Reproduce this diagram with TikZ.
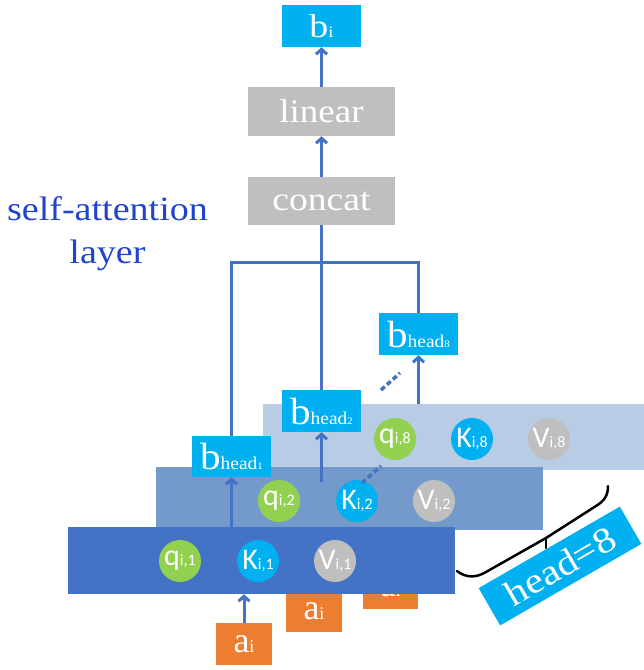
\documentclass[tikz,border=0pt]{standalone}
\usepackage{fontspec}
\setmainfont{Liberation Serif}
\newfontfamily\calfont{Carlito}
\usepackage{graphicx}
\usetikzlibrary{arrows.meta}
\definecolor{cyanb}{HTML}{00B0F0}
\definecolor{grayb}{HTML}{BFBFBF}
\definecolor{darkl}{HTML}{4472C4}
\definecolor{medl}{HTML}{739ACB}
\definecolor{lightl}{HTML}{B8CCE6}
\definecolor{orangeb}{HTML}{ED7D31}
\definecolor{greenc}{HTML}{92D050}
\definecolor{titleblue}{HTML}{2244CC}
\newcommand\fs[2]{{\fontsize{#1}{#1}\selectfont #2}}
\newcommand\sx[2]{\scalebox{#1}[1]{#2}}
\begin{document}
\begin{tikzpicture}[x=1pt,y=-1pt,
  rbox/.style={fill=#1, inner sep=0pt, text=white, draw=none},
  layer/.style={fill=#1, inner sep=0pt, draw=none},
  circ/.style={circle, fill=#1, minimum size=42pt, inner sep=0pt, text=white, font=\calfont},
  ln/.style={draw=darkl, line width=3pt},
  arr/.style={draw=darkl, line width=3pt, -{Straight Barb[length=5pt,width=11pt,line width=3pt]}},
  dsh/.style={draw=darkl, line width=3.5pt, dash pattern=on 5pt off 3pt},
  brc/.style={draw=black, line width=2.5pt, line cap=round}]
\useasboundingbox (0,0) rectangle (644,670);
% a_i boxes (behind layers)
\node[rbox=orangeb, minimum width=55pt, minimum height=42pt] (ai3) at (390.5,588) {\fs{36}{a}\fs{18}{i}};
\node[rbox=orangeb, minimum width=56pt, minimum height=42pt] (ai2) at (314,611) {\fs{36}{a}\fs{18}{i}};
\node[rbox=orangeb, minimum width=56pt, minimum height=42pt] (ai1) at (244,644) {\fs{36}{a}\fs{18}{i}};
% layers
\node[layer=lightl, minimum width=381pt, minimum height=66pt] (light) at (453.5,437) {};
\node[layer=medl, minimum width=387pt, minimum height=63pt] (med) at (349.5,498.5) {};
\node[layer=darkl, minimum width=387pt, minimum height=67pt] (dark) at (261.5,560.5) {};
% circles
\node[circ=greenc] (q8) at (395,439) {\fs{30}{q}\fs{16}{i,8}};
\node[circ=cyanb] (k8) at (472,439) {\fs{30}{K}\fs{16}{i,8}};
\node[circ=grayb] (v8) at (549,439) {\fs{30}{V}\fs{16}{i,8}};
\node[circ=greenc] (q2) at (279,501) {\fs{30}{q}\fs{16}{i,2}};
\node[circ=cyanb] (k2) at (357,501) {\fs{30}{K}\fs{16}{i,2}};
\node[circ=grayb] (v2) at (434,501) {\fs{30}{V}\fs{16}{i,2}};
\node[circ=greenc] (q1) at (180,561) {\fs{30}{q}\fs{16}{i,1}};
\node[circ=cyanb] (k1) at (258,561) {\fs{30}{K}\fs{16}{i,1}};
\node[circ=grayb] (v1) at (335,561) {\fs{30}{V}\fs{16}{i,1}};
% top boxes
\node[rbox=cyanb, minimum width=79pt, minimum height=42pt] (bi) at (321.5,26) {\sx{1.15}{\fs{33}{b}\fs{16}{i}}};
\node[rbox=grayb, minimum width=147pt, minimum height=49pt] (linear) at (321.5,111.5) {\sx{1.12}{\fs{33}{linear}}};
\node[rbox=grayb, minimum width=147pt, minimum height=48pt] (concat) at (321.5,201) {\sx{1.14}{\fs{33}{concat}}};
% head boxes
\node[rbox=cyanb, minimum width=79pt, minimum height=42pt] (bh8) at (418.5,334) {\sx{1.08}{\fs{38}{b}\fs{18}{head}\fs{10}{8}}};
\node[rbox=cyanb, minimum width=79pt, minimum height=42pt] (bh2) at (321.5,411) {\sx{1.08}{\fs{38}{b}\fs{18}{head}\fs{10}{2}}};
\node[rbox=cyanb, minimum width=79pt, minimum height=41pt] (bh1) at (231.5,456.5) {\sx{1.08}{\fs{38}{b}\fs{18}{head}\fs{10}{1}}};
% title
\node[anchor=base, text=titleblue, inner sep=0pt] (t1) at (107.5,220) {\sx{1.12}{\fs{34}{self-attention}}};
\node[anchor=base, text=titleblue, inner sep=0pt] (t2) at (107.5,263) {\sx{1.12}{\fs{34}{layer}}};
% connectors
\coordinate (jt) at (321.5,262);
\draw[arr] (concat.north) -- (linear.south);
\draw[arr] (linear.north) -- (bi.south);
\draw[ln] (concat.south) -- (bh2.north);
\draw[ln, line join=miter] (bh1.north) |- (jt) -| (bh8.north);
\draw[arr] (dark.north -| bh1.south) -- (bh1.south);
\coordinate (s2) at (321.5,482);
\draw[arr] (s2) -- (bh2.south);
\draw[arr] (light.north -| bh8.south) -- (bh8.south);
\draw[arr] (ai1.north) -- (dark.south -| ai1.north);
\coordinate (d1a) at (381,390);
\coordinate (d1b) at (400,373);
\coordinate (d2a) at (362,483);
\coordinate (d2b) at (381,466);
\draw[dsh] (d1a) -- (d1b);
\draw[dsh] (d2a) -- (d2b);
% brace
\coordinate (br1) at (457,571);
\coordinate (brm) at (546,538);
\coordinate (br2) at (608,486);
\coordinate (brt) at (546,548);
\draw[brc] (br1) .. controls (466,578) and (476,578) .. (486,572) -- (brm) -- (596,506) .. controls (604,501) and (608,496) .. (br2);
\draw[brc] (brm) -- (brt);
% head=8
\node[rbox=cyanb, minimum width=163pt, minimum height=43pt, rotate=30] (h8) at (560,566) {\sx{1.15}{\fs{36}{head=8}}};
\end{tikzpicture}
\end{document}
